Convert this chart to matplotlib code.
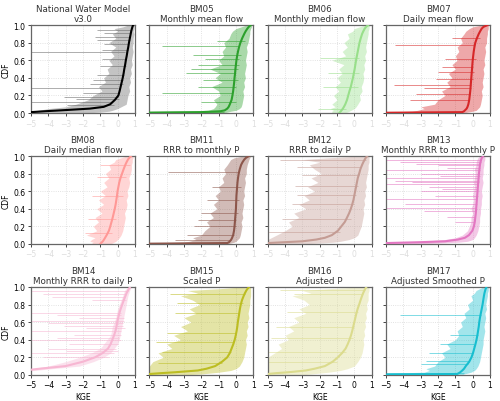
import matplotlib
matplotlib.use('Agg')
import matplotlib.pyplot as plt

# CDF levels shared by every panel
levels = [0.0, 0.01, 0.02, 0.03, 0.05, 0.07, 0.1, 0.15, 0.2, 0.25, 0.3, 0.35, 0.4,
          0.45, 0.5, 0.55, 0.6, 0.65, 0.7, 0.75, 0.8, 0.85, 0.9, 0.93, 0.96, 0.98, 1.0]

titles = ['National Water Model\nv3.0', 'BM05\nMonthly mean flow', 'BM06\nMonthly median flow',
          'BM07\nDaily mean flow', 'BM08\nDaily median flow', 'BM11\nRRR to monthly P',
          'BM12\nRRR to daily P', 'BM13\nMonthly RRR to monthly P', 'BM14\nMonthly RRR to daily P',
          'BM15\nScaled P', 'BM16\nAdjusted P', 'BM17\nAdjusted Smoothed P']
line_colors = ['black', '#2ca02c', '#98df8a', '#d62728', '#ff9896', '#8c564b',
               '#c49c94', '#e377c2', '#f7b6d2', '#bcbd22', '#dbdb8d', '#17becf']
band_colors = ['#6a6a6a', '#2ca02c', '#98df8a', '#d62728', '#ff9896', '#8c564b',
               '#c49c94', '#e377c2', '#f7b6d2', '#bcbd22', '#dbdb8d', '#17becf']

# median KGE per CDF level
curve_nwm = [-7, -5.0, -4.2, -3.3, -1.6, -0.8, -0.42, -0.15, 0.05, 0.12, 0.18, 0.24, 0.3, 0.35, 0.39, 0.44, 0.48, 0.53, 0.57, 0.62, 0.66, 0.71, 0.76, 0.79, 0.83, 0.86, 0.9]
curve_bm05 = [-7, -2.0, -0.9, -0.65, -0.5, -0.42, -0.35, -0.25, -0.2, -0.16, -0.13, -0.1, -0.08, -0.05, -0.03, 0.0, 0.03, 0.07, 0.12, 0.18, 0.26, 0.36, 0.48, 0.56, 0.66, 0.74, 0.85]
curve_bm06 = [-0.87, -0.82, -0.78, -0.74, -0.66, -0.6, -0.52, -0.42, -0.35, -0.28, -0.2, -0.14, -0.08, -0.03, 0.02, 0.06, 0.1, 0.15, 0.2, 0.25, 0.3, 0.37, 0.45, 0.52, 0.6, 0.68, 0.8]
curve_bm07 = [-7, -0.6, -0.5, -0.45, -0.35, -0.3, -0.25, -0.2, -0.17, -0.14, -0.12, -0.1, -0.08, -0.06, -0.04, -0.02, 0.0, 0.03, 0.06, 0.1, 0.15, 0.24, 0.35, 0.43, 0.52, 0.62, 0.85]
curve_bm08 = [-1.0, -0.95, -0.9, -0.85, -0.78, -0.72, -0.63, -0.5, -0.42, -0.35, -0.28, -0.22, -0.16, -0.11, -0.07, -0.03, 0.0, 0.05, 0.1, 0.17, 0.26, 0.35, 0.45, 0.52, 0.6, 0.68, 0.78]
curve_bm11 = [-7, -0.5, -0.4, -0.35, -0.27, -0.22, -0.16, -0.11, -0.08, -0.06, -0.04, -0.02, 0.0, 0.01, 0.02, 0.03, 0.05, 0.07, 0.09, 0.12, 0.16, 0.22, 0.3, 0.38, 0.48, 0.58, 0.75]
curve_bm12 = [-7, -5.0, -4.0, -3.0, -2.2, -1.7, -1.3, -0.95, -0.75, -0.55, -0.42, -0.3, -0.2, -0.12, -0.05, 0.0, 0.05, 0.1, 0.15, 0.2, 0.28, 0.35, 0.45, 0.52, 0.6, 0.66, 0.75]
curve_bm13 = [-7, -5.0, -3.0, -1.6, -0.85, -0.45, -0.22, -0.02, 0.07, 0.12, 0.15, 0.18, 0.2, 0.22, 0.24, 0.26, 0.28, 0.3, 0.32, 0.34, 0.36, 0.39, 0.42, 0.45, 0.49, 0.53, 0.6]
curve_bm14 = [-9, -8.5, -8, -7, -5.4, -4.5, -3.0, -2.0, -1.3, -0.85, -0.55, -0.4, -0.3, -0.2, -0.12, -0.06, -0.02, 0.04, 0.1, 0.18, 0.27, 0.36, 0.46, 0.52, 0.6, 0.66, 0.72]
curve_bm15 = [-7, -5.0, -4.3, -3.5, -2.2, -1.7, -1.2, -0.8, -0.5, -0.35, -0.25, -0.15, -0.07, -0.01, 0.04, 0.08, 0.11, 0.15, 0.19, 0.23, 0.28, 0.35, 0.45, 0.52, 0.6, 0.67, 0.76]
curve_bm16 = [-7, -5.0, -4.5, -3.8, -2.8, -2.3, -1.7, -1.25, -0.95, -0.7, -0.5, -0.38, -0.28, -0.19, -0.12, -0.06, 0.0, 0.06, 0.12, 0.19, 0.28, 0.36, 0.45, 0.51, 0.58, 0.63, 0.7]
curve_bm17 = [-7, -0.9, -0.8, -0.72, -0.6, -0.5, -0.4, -0.2, -0.07, 0.02, 0.09, 0.16, 0.22, 0.27, 0.31, 0.35, 0.38, 0.42, 0.47, 0.52, 0.57, 0.61, 0.65, 0.68, 0.72, 0.75, 0.8]

# left edge of the spread of KGE ranges per CDF level
lo_nwm = [-5, -5, -5, -4.6, -4.0, -3.0, -2.4, -1.7, -1.4, -0.9, -1.1, -0.7, -0.8, -0.5, -0.6, -0.3, -0.5, -0.2, -0.4, -0.1, -0.5, -0.1, -0.3, 0.0, -0.2, 0.3, 0.6]
lo_bm05 = [-5, -5, -5, -1.6, -1.3, -1.2, -1.1, -1.3, -0.9, -1.0, -1.4, -0.8, -1.2, -0.9, -1.5, -0.8, -1.0, -0.7, -0.8, -0.6, -0.7, -0.4, -0.3, -0.2, 0.0, 0.3, 0.6]
lo_bm06 = [-1.3, -1.3, -1.3, -1.2, -1.4, -1.1, -1.3, -1.0, -1.2, -0.9, -1.1, -0.8, -1.0, -0.7, -0.9, -0.6, -1.3, -0.5, -0.7, -0.4, -0.6, -0.3, -0.4, -0.1, 0.0, 0.3, 0.6]
lo_bm07 = [-5, -5, -3.5, -3.2, -2.8, -3.0, -2.2, -2.0, -1.6, -1.8, -1.3, -1.5, -1.2, -1.4, -1.0, -1.2, -0.9, -1.0, -0.8, -0.9, -0.6, -0.7, -0.5, -0.4, -0.2, 0.0, 0.5]
lo_bm08 = [-1.4, -1.5, -1.4, -1.6, -1.5, -1.3, -1.8, -1.2, -1.4, -1.1, -1.3, -0.9, -1.2, -0.8, -1.1, -0.7, -1.0, -0.6, -0.8, -0.5, -0.7, -0.4, -0.5, -0.2, -0.1, 0.2, 0.5]
lo_bm11 = [-5, -5, -3.0, -2.7, -2.3, -2.5, -2.0, -1.8, -1.5, -1.7, -1.3, -1.5, -1.1, -1.3, -1.0, -1.2, -0.9, -1.0, -0.7, -0.8, -0.6, -0.7, -0.5, -0.4, -0.3, -0.1, 0.4]
lo_bm12 = [-5, -5, -5, -5, -5, -4.8, -4.5, -4.0, -3.6, -3.8, -3.2, -3.5, -2.8, -3.2, -2.6, -2.9, -2.3, -2.7, -2.1, -2.5, -1.9, -2.3, -2.6, -2.0, -3.0, -1.5, 0.2]
lo_bm13 = [-5, -5, -4.5, -3.0, -1.6, -1.0, -0.6, -0.3, -0.2, -0.1, -0.1, 0.0, -0.1, 0.0, 0.05, 0.0, 0.05, 0.1, 0.05, 0.1, 0.15, 0.1, 0.2, 0.2, 0.25, 0.3, 0.4]
lo_bm14 = [-9.5, -9, -8.5, -7.5, -6.0, -5.0, -4.0, -3.0, -2.2, -1.5, -1.0, -0.8, -0.6, -0.4, -0.35, -0.3, -0.2, -0.1, -0.05, 0.0, 0.1, 0.2, 0.3, 0.35, 0.4, 0.5, 0.6]
lo_bm15 = [-5, -5, -5, -5, -5, -5, -5, -4.8, -4.2, -4.5, -3.7, -4.0, -3.2, -3.6, -2.8, -3.2, -2.6, -3.0, -2.3, -2.7, -2.1, -2.5, -3.2, -2.2, -2.8, -1.0, 0.3]
lo_bm16 = [-5, -5, -5, -5, -5, -5, -5, -5, -5, -4.6, -4.2, -4.4, -3.8, -4.0, -3.5, -3.8, -3.2, -3.5, -2.8, -3.2, -2.6, -2.9, -3.6, -2.5, -3.0, -1.5, 0.2]
lo_bm17 = [-5, -5, -5, -2.8, -2.5, -2.7, -2.2, -2.0, -1.6, -1.8, -1.3, -1.5, -1.0, -0.8, -0.9, -0.6, -0.7, -0.4, -0.5, -0.2, -0.3, 0.0, -0.1, 0.1, 0.2, 0.4, 0.6]

# right edge of the spread per CDF level
hi_nwm = [-2.0, -1.0, -0.5, -0.3, 0.0, 0.2, 0.5, 0.55, 0.6, 0.7, 0.65, 0.75, 0.7, 0.8, 0.75, 0.85, 0.8, 0.85, 0.9, 0.85, 0.9, 0.9, 0.95, 0.9, 0.95, 0.95, 0.98]
hi_bm05 = [-0.7, -0.5, -0.3, 0.0, 0.2, 0.3, 0.35, 0.4, 0.45, 0.4, 0.5, 0.45, 0.55, 0.5, 0.55, 0.6, 0.55, 0.6, 0.65, 0.6, 0.7, 0.75, 0.8, 0.8, 0.85, 0.9, 0.9]
hi_bm06 = [-0.6, -0.4, -0.3, -0.2, 0.0, 0.1, 0.2, 0.35, 0.3, 0.45, 0.4, 0.5, 0.55, 0.5, 0.6, 0.55, 0.65, 0.6, 0.7, 0.65, 0.7, 0.75, 0.8, 0.8, 0.85, 0.85, 0.9]
hi_bm07 = [-0.5, -0.3, 0.0, 0.2, 0.3, 0.4, 0.45, 0.5, 0.55, 0.5, 0.6, 0.55, 0.6, 0.65, 0.6, 0.7, 0.65, 0.7, 0.75, 0.7, 0.8, 0.8, 0.85, 0.85, 0.9, 0.9, 0.9]
hi_bm08 = [-0.4, -0.3, -0.2, -0.1, 0.0, 0.1, 0.2, 0.3, 0.35, 0.4, 0.45, 0.4, 0.5, 0.55, 0.5, 0.6, 0.55, 0.65, 0.7, 0.65, 0.75, 0.8, 0.8, 0.85, 0.85, 0.9, 0.9]
hi_bm11 = [-0.5, -0.3, -0.1, 0.0, 0.1, 0.2, 0.25, 0.3, 0.35, 0.3, 0.4, 0.35, 0.4, 0.45, 0.4, 0.5, 0.45, 0.5, 0.55, 0.5, 0.6, 0.6, 0.65, 0.7, 0.75, 0.8, 0.85]
hi_bm12 = [-3, -2, -1.2, -0.8, -0.3, 0.0, 0.2, 0.3, 0.4, 0.45, 0.5, 0.55, 0.5, 0.6, 0.55, 0.65, 0.6, 0.7, 0.65, 0.7, 0.75, 0.8, 0.8, 0.85, 0.85, 0.85, 0.85]
hi_bm13 = [-3, -2, -0.8, -0.3, 0.0, 0.1, 0.2, 0.3, 0.35, 0.4, 0.4, 0.45, 0.45, 0.5, 0.5, 0.55, 0.5, 0.55, 0.6, 0.55, 0.6, 0.6, 0.65, 0.65, 0.7, 0.7, 0.7]
hi_bm14 = [-8, -7.5, -7, -6, -4.8, -3.8, -2.2, -1.4, -0.8, -0.4, -0.2, 0.0, 0.1, 0.15, 0.2, 0.25, 0.3, 0.35, 0.4, 0.45, 0.5, 0.55, 0.6, 0.65, 0.7, 0.75, 0.8]
hi_bm15 = [-3, -2, -1.5, -1.0, -0.3, 0.0, 0.2, 0.35, 0.45, 0.5, 0.55, 0.6, 0.55, 0.65, 0.6, 0.7, 0.65, 0.75, 0.7, 0.75, 0.8, 0.8, 0.85, 0.85, 0.85, 0.85, 0.85]
hi_bm16 = [-3, -2.5, -2, -1.5, -0.8, -0.4, 0.0, 0.2, 0.35, 0.45, 0.5, 0.55, 0.5, 0.6, 0.55, 0.65, 0.6, 0.7, 0.65, 0.75, 0.7, 0.8, 0.8, 0.8, 0.85, 0.85, 0.85]
hi_bm17 = [-0.6, -0.5, -0.3, -0.1, 0.1, 0.2, 0.3, 0.4, 0.45, 0.5, 0.55, 0.6, 0.6, 0.65, 0.7, 0.65, 0.7, 0.75, 0.7, 0.8, 0.75, 0.8, 0.85, 0.85, 0.9, 0.9, 0.9]

# single long ranges that stick out of the spread: (cdf, kge_low, kge_high)
out_nwm = [(0.69, -5, 0.45), (0.28, -5, 0.0), (0.125, -5, -0.3), (0.095, -2.9, -0.2), (0.94, -1.2, 0.8),
           (0.905, -0.8, 0.7), (0.72, -0.9, 0.6), (0.54, -1.0, 0.5), (0.43, -1.2, 0.4), (0.33, -1.6, 0.3),
           (0.18, -3.1, 0.0), (0.16, -2.4, 0.1), (0.87, -1.3, 0.7), (0.83, -1.2, 0.7), (0.61, -0.9, 0.5),
           (0.38, -1.4, 0.3), (0.23, -2.0, 0.1), (0.79, -0.8, 0.6)]
out_bm05 = [(0.015, -5, -0.7), (0.76, -4.3, 0.1), (0.23, -4.3, -0.2), (0.45, -2.9, -0.1), (0.3, -2.2, 0.0),
            (0.55, -2.2, 0.2), (0.62, -1.8, 0.2), (0.66, -2.5, 0.3), (0.12, -2.0, 0.0), (0.38, -1.9, 0.1),
            (0.5, -2.6, 0.1), (0.82, -1.1, 0.5)]
out_bm06 = [(0.005, -5, -0.8), (0.63, -2.0, 0.3), (0.05, -2.1, -0.5), (0.3, -1.8, 0.2), (0.45, -1.5, 0.3)]
out_bm07 = [(0.77, -4.5, 0.1), (0.32, -4.55, -0.1), (0.39, -2.1, 0.0), (0.285, -2.8, -0.1),
            (0.22, -3.3, -0.15), (0.15, -3.6, -0.2), (0.52, -1.8, 0.0), (0.62, -1.6, 0.2),
            (0.47, -2.0, 0.1), (0.85, -1.2, 0.4)]
out_bm08 = [(0.12, -1.9, -0.3), (0.28, -1.7, -0.1), (0.55, -1.5, 0.3), (0.76, -1.2, 0.5), (0.9, -1.0, 0.7)]
out_bm11 = [(0.82, -3.9, 0.2), (0.04, -3.5, -0.3), (0.1, -2.8, -0.1), (0.2, -2.4, 0.0), (0.35, -2.0, 0.1),
            (0.5, -1.7, 0.2), (0.27, -2.2, 0.0), (0.65, -1.4, 0.3)]
out_bm12 = [(0.96, -4.3, 0.7), (0.28, -4.2, -0.2), (0.14, -5, -0.8), (0.66, -3.4, 0.2), (0.88, -3.3, 0.4),
            (0.45, -3.6, 0.0), (0.78, -3.0, 0.3), (0.56, -3.3, 0.1)]
out_bm13 = [(0.96, -5, 0.5), (0.93, -4.2, 0.5), (0.905, -3.3, 0.45), (0.84, -5, 0.4), (0.8, -3.0, 0.4),
            (0.75, -5, 0.35), (0.72, -4.5, 0.35), (0.7, -3.5, 0.35), (0.68, -5, 0.3), (0.65, -2.5, 0.3),
            (0.51, -5, 0.25), (0.46, -3.9, 0.25), (0.41, -5, 0.2), (0.38, -2.8, 0.2), (0.55, -2.2, 0.3),
            (0.62, -1.8, 0.3), (0.9, -2.0, 0.45), (0.86, -1.5, 0.45), (0.77, -1.9, 0.4), (0.6, -3.0, 0.3),
            (0.31, -1.5, 0.15), (0.25, -1.0, 0.1)]
out_bm14 = [(0.955, -5, 0.6), (0.92, -4.3, 0.5), (0.885, -3.8, 0.45), (0.7, -5, 0.2), (0.68, -3.5, 0.2),
            (0.61, -5, 0.4), (0.585, -4.0, 0.3), (0.56, -3.1, 0.3), (0.5, -5, 0.2), (0.45, -2.5, 0.2),
            (0.42, -3.5, 0.1), (0.4, -5, 0.2), (0.35, -2.8, 0.0), (0.3, -4.0, -0.1), (0.245, -5, -0.2),
            (0.2, -4.3, -0.5), (0.65, -2.2, 0.4), (0.53, -1.8, 0.45), (0.85, -1.5, 0.5), (0.27, -3.0, 0.0)]
out_bm15 = [(0.26, -4.3, -0.3), (0.92, -3.8, 0.5), (0.13, -4.5, -0.8), (0.48, -4.0, 0.0), (0.7, -3.5, 0.2),
            (0.37, -4.6, -0.1), (0.82, -3.4, 0.4)]
out_bm16 = [(0.26, -5, -0.5), (0.97, -4.3, 0.6), (0.92, -3.5, 0.5), (0.55, -4.5, 0.0), (0.15, -5, -1.0),
            (0.72, -3.9, 0.2), (0.42, -4.8, -0.1)]
out_bm17 = [(0.68, -4.2, 0.5), (0.02, -5, -0.5), (0.25, -2.5, 0.0), (0.12, -3.0, -0.3), (0.16, -2.7, -0.2),
            (0.35, -1.9, 0.1), (0.45, -1.3, 0.3)]

curves = [curve_nwm, curve_bm05, curve_bm06, curve_bm07, curve_bm08, curve_bm11,
          curve_bm12, curve_bm13, curve_bm14, curve_bm15, curve_bm16, curve_bm17]
lows = [lo_nwm, lo_bm05, lo_bm06, lo_bm07, lo_bm08, lo_bm11,
        lo_bm12, lo_bm13, lo_bm14, lo_bm15, lo_bm16, lo_bm17]
highs = [hi_nwm, hi_bm05, hi_bm06, hi_bm07, hi_bm08, hi_bm11,
         hi_bm12, hi_bm13, hi_bm14, hi_bm15, hi_bm16, hi_bm17]
outliers = [out_nwm, out_bm05, out_bm06, out_bm07, out_bm08, out_bm11,
            out_bm12, out_bm13, out_bm14, out_bm15, out_bm16, out_bm17]

fig, axes = plt.subplots(3, 4, figsize=(5.0, 4.02), dpi=100, sharey=True)
fig.subplots_adjust(left=0.062, right=0.98, top=0.935, bottom=0.065, wspace=0.14, hspace=0.49)

for i, ax in enumerate(axes.flat):
    col = line_colors[i]
    bcol = band_colors[i]
    ax.fill_betweenx(levels, lows[i], highs[i], color=bcol, alpha=0.4, lw=0, zorder=2)
    for y, x0, x1 in outliers[i]:
        ax.hlines(y, x0, x1, color=bcol, alpha=0.55, lw=0.7, zorder=2)
    ax.plot(curves[i], levels, color=col, lw=1.5, zorder=3)

    ax.set_xlim(-5, 1)
    ax.set_ylim(0, 1)
    ax.set_xticks([-5, -4, -3, -2, -1, 0, 1])
    ax.set_yticks([0.0, 0.2, 0.4, 0.6, 0.8, 1.0])
    ax.grid(True, color='#d9d9d9', linestyle=':', lw=0.6, zorder=0)
    ax.set_axisbelow(True)
    for s in ax.spines.values():
        s.set_color('#666666')
        s.set_linewidth(0.9)
    ax.tick_params(labelsize=5.5, length=2.5, width=0.7, color='#444444', pad=1.5)
    ax.set_title(titles[i], fontsize=6.3, color='#333333', pad=3, linespacing=1.1)
    r, c = divmod(i, 4)
    if r < 2:
        ax.tick_params(axis='x', labelcolor='#dddddd')
    else:
        ax.set_xlabel('KGE', fontsize=5.5, labelpad=2)
    if c == 0:
        ax.set_ylabel('CDF', fontsize=5.5, labelpad=2)

fig.savefig('out.png', dpi=100)
